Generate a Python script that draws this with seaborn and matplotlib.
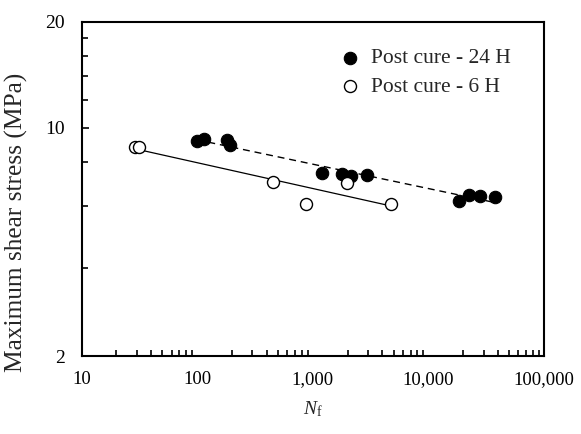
import numpy as np
import pandas as pd
import matplotlib
matplotlib.use("Agg")
import matplotlib.pyplot as plt
import seaborn as sns
from matplotlib.ticker import FixedLocator, NullFormatter, FuncFormatter

# ---- data ----
cycles_24h = [99, 114, 180, 192, 1206, 1786, 2123, 2917, 18490, 22400, 27900, 37400]
stress_24h = [9.17, 9.27, 9.23, 8.93, 7.42, 7.39, 7.30, 7.33, 6.19, 6.42, 6.41, 6.36]
cycles_6h = [28.9, 31.5, 455, 871, 1985, 4765]
stress_6h = [8.83, 8.79, 7.01, 6.07, 6.95, 6.06]
label_24h = "Post cure - 24 H"
label_6h = "Post cure - 6 H"
x_ticks = [10, 100, 1000, 10000, 100000]
y_tick_labels = ["2", "10", "20"]
x_label = "$N_\\mathrm{f}$"
y_label = "Maximum shear stress (MPa)"

sns.set_style("ticks")
plt.rcParams["font.family"] = ["Liberation Serif", "DejaVu Serif"]
plt.rcParams["mathtext.fontset"] = "custom"
plt.rcParams["mathtext.rm"] = "Liberation Serif"
plt.rcParams["mathtext.it"] = "Liberation Serif:italic"

fig = plt.figure(figsize=(5.81, 4.34), dpi=100)
ax = fig.add_axes([0.1406, 0.1797, 0.7957, 0.7703])

df24 = pd.DataFrame({"N": cycles_24h, "S": stress_24h})
df6 = pd.DataFrame({"N": cycles_6h, "S": stress_6h})

ax.set_xscale("log")
ax.set_yscale("log")

# power-law trendlines
def fit_line(df):
    k, b = np.polyfit(np.log10(df["N"]), np.log10(df["S"]), 1)
    xs = np.geomspace(df["N"].min(), df["N"].max(), 50)
    return xs, 10 ** (b + k * np.log10(xs))

xs, ys = fit_line(df24)
ax.plot(xs, ys, color="black", lw=1.0, ls=(0, (5, 3.5)), zorder=2)
xs, ys = fit_line(df6)
ax.plot(xs, ys, color="black", lw=0.9, ls="-", zorder=2)

sns.scatterplot(data=df24, x="N", y="S", ax=ax, color="black", edgecolor="black",
                s=80, linewidth=0.8, label=label_24h, zorder=3)
sns.scatterplot(data=df6, x="N", y="S", ax=ax, color="white", edgecolor="black",
                s=75, linewidth=1.0, label=label_6h, zorder=3)

ymin = 2.245
ax.set_xlim(10, 100000)
ax.set_ylim(ymin, 20)

ax.xaxis.set_major_locator(FixedLocator(x_ticks))
ax.xaxis.set_major_formatter(FuncFormatter(lambda v, p: f"{int(round(v)):,}"))
ax.xaxis.set_minor_locator(FixedLocator([m * d for d in [10, 100, 1000, 10000] for m in range(2, 10)]))
ax.xaxis.set_minor_formatter(NullFormatter())

ax.yaxis.set_major_locator(FixedLocator([ymin, 10, 20]))
ax.set_yticklabels(y_tick_labels)
ax.yaxis.set_minor_locator(FixedLocator([4, 6, 8, 12, 14, 16, 18]))
ax.yaxis.set_minor_formatter(NullFormatter())

ax.tick_params(which="both", direction="in", color="black", width=1.2,
               labelcolor="black")
ax.tick_params(axis="x", labelsize=13.5, pad=11)
ax.tick_params(axis="y", labelsize=14, pad=12)
ax.tick_params(which="major", length=5)
ax.tick_params(which="minor", length=4)
ax.tick_params(axis="x", which="major", length=0.01)

for sp in ax.spines.values():
    sp.set_visible(True)
    sp.set_linewidth(1.5)
    sp.set_color("black")

ax.set_xlabel(x_label, fontsize=14, labelpad=8)
ax.set_ylabel(y_label, fontsize=18.3)
ax.yaxis.set_label_coords(-0.116, 0.40)

leg = ax.legend(loc="upper right", frameon=False, fontsize=15.5, handletextpad=0.1,
                handlelength=1.7, borderaxespad=0.6, labelspacing=0.4,
                markerscale=1.0, bbox_to_anchor=(0.974, 0.985))

fig.savefig("out.png", dpi=100)
